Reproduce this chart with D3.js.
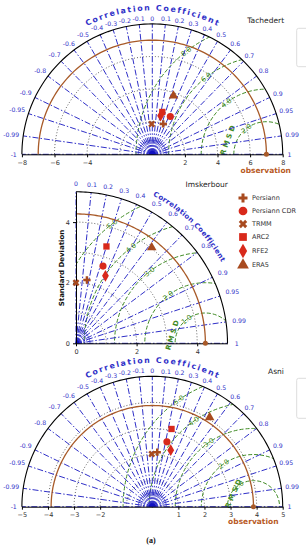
<!DOCTYPE html>
<html>
<head>
<meta charset="utf-8">
<script src="https://cdn.jsdelivr.net/npm/d3@7"></script>
<style>
body { margin: 0; background: #fff; }
svg { display: block; font-family: "DejaVu Sans", sans-serif; }
</style>
</head>
<body>
<div id="chart"></div>
<script>
// series shared by all three diagrams
var models = ["Persiann", "Persiann CDR", "TRMM", "ARC2", "RFE2", "ERA5"];
var markerTypes = ["plus", "circle", "times", "square", "diamond", "triangle"];
var markerColors = ["#a84a1f", "#d8291b", "#a84a1f", "#d8291b", "#d8291b", "#a84a1f"];

// Tachedert
var tachedertStd = [1.98, 2.57, 1.86, 2.67, 2.42, 3.82];
var tachedertCorr = [0.34, 0.43, -0.02, 0.23, 0.21, 0.34];
var tachedertObs = 7.0;

// Imskerbour
var imskerbourStd = [2.12, 2.70, 2.00, 3.35, 2.43, 4.03];
var imskerbourCorr = [0.17, 0.33, 0.0, 0.30, 0.40, 0.62];
var imskerbourObs = 4.27;

// Asni
var asniStd = [2.10, 2.55, 2.02, 3.07, 2.28, 4.07];
var asniCorr = [0.09, 0.22, -0.01, 0.24, 0.31, 0.54];
var asniObs = 3.88;

var corrFull = [-1, -0.99, -0.95, -0.9, -0.8, -0.7, -0.6, -0.5, -0.4, -0.3, -0.2, -0.1, 0,
  0.1, 0.2, 0.3, 0.4, 0.5, 0.6, 0.7, 0.8, 0.9, 0.95, 0.99, 1];
var corrHalf = [0, 0.1, 0.2, 0.3, 0.4, 0.5, 0.6, 0.7, 0.8, 0.9, 0.95, 0.99, 1];

var tachedertTicks = [-8, -6, -4, 2, 4, 6, 8];
var imskerbourTicks = [0, 2, 4];
var asniTicks = [-5, -4, -3, -2, 1, 2, 3, 4, 5];

var tachedertGrid = [2, 4, 6];
var imskerbourGrid = [1, 2, 3, 4];
var asniGrid = [1, 2, 3, 4];

var tachedertRms = [2, 4, 6, 8];
var imskerbourRms = [1, 2, 3, 4, 5];
var asniRms = [1, 2, 3, 4, 5];

var blue = "#3030c8";
var green = "#3f8a24";
var brown = "#a85a28";

var svg = d3.select("#chart").append("svg")
  .attr("width", 306)
  .attr("height", 550);

function markerPath(type, size) {
  var t = {
    plus: d3.symbolCross, circle: d3.symbolCircle, times: d3.symbolCross,
    square: d3.symbolSquare, diamond: d3.symbolDiamond, triangle: d3.symbolTriangle
  }[type];
  return d3.symbol().type(t).size(size)();
}

function drawTaylor(p) {
  var g = svg.append("g");
  var r = d3.scaleLinear().domain([0, p.max]).range([0, p.R]);
  var maxAng = p.half ? Math.PI : Math.PI / 2;

  function pt(std, corr) {
    var a = Math.acos(corr);
    return [p.cx + r(std) * Math.cos(a), p.cy - r(std) * Math.sin(a)];
  }
  function arcPath(rad, a0, a1) {
    var s = d3.range(0, 101).map(function(i) {
      var a = a0 + (a1 - a0) * i / 100;
      return [p.cx + rad * Math.cos(a), p.cy - rad * Math.sin(a)];
    });
    return d3.line()(s);
  }

  // clip for rms circles
  var clipId = "clip" + p.id;
  g.append("clipPath").attr("id", clipId)
    .append("path")
    .attr("d", arcPath(p.R, 0, maxAng) + "L" + p.cx + "," + p.cy + "Z");

  // std grid (dotted)
  p.grid.forEach(function(s) {
    g.append("path").attr("d", arcPath(r(s), 0, maxAng))
      .attr("fill", "none").attr("stroke", "#555")
      .attr("stroke-width", 0.9).attr("stroke-dasharray", "1,2");
  });

  // rms contours around the observation
  var rmsG = g.append("g").attr("clip-path", "url(#" + clipId + ")");
  p.rms.forEach(function(v) {
    rmsG.append("circle")
      .attr("cx", p.cx + r(p.obs)).attr("cy", p.cy).attr("r", r(v))
      .attr("fill", "none").attr("stroke", green)
      .attr("stroke-width", 1).attr("stroke-dasharray", "4,2");
  });
  p.rms.forEach(function(v) {
    var a = p.rmsAng * Math.PI / 180;
    var x = p.cx + r(p.obs) + r(v) * Math.cos(a);
    var y = p.cy - r(v) * Math.sin(a);
    g.append("text")
      .attr("transform", "translate(" + x + "," + y + ") rotate(" + (90 - p.rmsAng) + ")")
      .attr("text-anchor", "middle").attr("dy", "0.35em")
      .attr("font-size", 7).attr("fill", green)
      .text(v.toFixed(1));
  });
  g.append("text")
    .attr("transform", "translate(" + p.rmsd[0] + "," + p.rmsd[1] + ") rotate(" + p.rmsd[2] + ")")
    .attr("text-anchor", "middle").attr("dy", "0.35em")
    .attr("font-size", 7).attr("font-weight", "bold")
    .attr("letter-spacing", 2.5).attr("fill", green)
    .text("RMSD");

  // correlation rays
  var ticks = p.half ? corrFull : corrHalf;
  ticks.forEach(function(c) {
    var e = pt(p.max, c);
    g.append("line")
      .attr("x1", p.cx).attr("y1", p.cy).attr("x2", e[0]).attr("y2", e[1])
      .attr("stroke", blue).attr("stroke-width", 1)
      .attr("stroke-dasharray", "6,2,1.5,2");
    var a = Math.acos(c);
    var txt = String(c);
    var hw = txt.length * 1.9;
    var rr = p.R + p.labOff + hw * Math.abs(Math.cos(a)) * 0.7;
    g.append("text")
      .attr("x", p.cx + rr * Math.cos(a)).attr("y", p.cy - rr * Math.sin(a))
      .attr("text-anchor", "middle").attr("dominant-baseline", "central")
      .attr("font-size", 6.2).attr("fill", blue)
      .text(txt);
  });

  // small blue rings around the origin
  [5, 8, 11, 14].forEach(function(rad) {
    g.append("path").attr("d", arcPath(rad, 0, maxAng))
      .attr("fill", "none").attr("stroke", blue).attr("stroke-width", 0.8);
  });
  g.append("path").attr("d", arcPath(3.5, 0, maxAng) + "L" + p.cx + "," + p.cy + "Z")
    .attr("fill", "#1010c0");

  // observation arc
  g.append("path").attr("d", arcPath(r(p.obs), 0, maxAng))
    .attr("fill", "none").attr("stroke", brown).attr("stroke-width", 1.3);

  // outer frame
  g.append("path").attr("d", arcPath(p.R, 0, maxAng))
    .attr("fill", "none").attr("stroke", "#000").attr("stroke-width", 1.1);

  // axes
  if (p.half) {
    var x = d3.scaleLinear().domain([-p.max, p.max]).range([p.cx - p.R, p.cx + p.R]);
    g.append("g").attr("transform", "translate(0," + p.cy + ")")
      .call(d3.axisBottom(x).tickValues(p.ticks).tickSize(3).tickSizeOuter(0).tickFormat(d3.format("d")));
  } else {
    var xs = d3.scaleLinear().domain([0, p.max]).range([p.cx, p.cx + p.R]);
    var ys = d3.scaleLinear().domain([0, p.max]).range([p.cy, p.cy - p.R]);
    g.append("g").attr("transform", "translate(0," + p.cy + ")")
      .call(d3.axisBottom(xs).tickValues(p.ticks).tickSize(3).tickSizeOuter(0).tickFormat(d3.format("d")));
    g.append("g").attr("transform", "translate(" + p.cx + ",0)")
      .call(d3.axisLeft(ys).tickValues(p.ticks).tickSize(3).tickSizeOuter(0).tickFormat(d3.format("d")));
  }
  g.selectAll(".tick text").attr("font-size", 6.5).attr("fill", "#333")
    .attr("font-family", "DejaVu Sans");
  g.selectAll(".domain").attr("stroke", "#000");

  // observation point
  g.append("circle").attr("cx", p.cx + r(p.obs)).attr("cy", p.cy).attr("r", 2.5)
    .attr("fill", brown);

  // curved title
  var pid = "tp" + p.id;
  var a0 = p.titleArc[1] * Math.PI / 180, a1 = p.titleArc[2] * Math.PI / 180;
  var tr = p.R + p.titleArc[0];
  g.append("path").attr("id", pid).attr("fill", "none")
    .attr("d", "M" + (p.cx + tr * Math.cos(a0)) + "," + (p.cy - tr * Math.sin(a0)) +
      "A" + tr + "," + tr + " 0 0 1 " + (p.cx + tr * Math.cos(a1)) + "," + (p.cy - tr * Math.sin(a1)));
  var tt = g.append("text").attr("font-size", p.titleSize).attr("font-weight", "bold")
    .attr("fill", blue);
  tt.append("textPath").attr("href", "#" + pid).text("Correlation Coefficient");
  var want = tr * (a0 - a1);
  var have = tt.node().getComputedTextLength();
  tt.attr("letter-spacing", (want - have) / 22);

  // station name
  g.append("text").attr("x", p.name[1]).attr("y", p.name[2])
    .attr("text-anchor", "middle").attr("dominant-baseline", "central")
    .attr("font-size", 7.5).attr("fill", "#222").text(p.name[0]);

  if (p.obsText) {
    g.append("text").attr("x", p.obsText[0]).attr("y", p.obsText[1])
      .attr("text-anchor", "middle").attr("dominant-baseline", "central")
      .attr("font-size", 7.5).attr("font-weight", "bold").attr("fill", "#b85a25")
      .text("observation");
  }

  // model points
  models.forEach(function(m, i) {
    var q = pt(p.std[i], p.corr[i]);
    g.append("path")
      .attr("d", markerPath(markerTypes[i], markerTypes[i] === "plus" || markerTypes[i] === "times" ? 30 : 40))
      .attr("transform", "translate(" + q[0] + "," + q[1] + ")" + (markerTypes[i] === "times" ? " rotate(45)" : ""))
      .attr("fill", markerColors[i]);
  });
}

drawTaylor({
  id: 1, cx: 152.3, cy: 154.3, R: 130.4, max: 8, obs: tachedertObs, half: true,
  ticks: tachedertTicks, grid: tachedertGrid, rms: tachedertRms, rmsAng: 128,
  rmsd: [228, 139, -70], std: tachedertStd, corr: tachedertCorr,
  titleArc: [13.5, 117, 63.5], titleSize: 7.8, labOff: 5.5,
  name: ["Tachedert", 265.7, 20], obsText: [265.7, 170.7]
});

drawTaylor({
  id: 2, cx: 76, cy: 343.3, R: 151.5, max: 5, obs: imskerbourObs, half: false,
  ticks: imskerbourTicks, grid: imskerbourGrid, rms: imskerbourRms, rmsAng: 128,
  rmsd: [172.5, 334, -73], std: imskerbourStd, corr: imskerbourCorr,
  titleArc: [15, 62.5, 29.5], titleSize: 7, labOff: 8,
  name: ["Imskerbour", 206.7, 184.3], obsText: null
});

drawTaylor({
  id: 3, cx: 152.3, cy: 506.7, R: 130.4, max: 5, obs: asniObs, half: true,
  ticks: asniTicks, grid: asniGrid, rms: asniRms, rmsAng: 125,
  rmsd: [233.7, 492.5, -66], std: asniStd, corr: asniCorr,
  titleArc: [13.5, 117, 63.5], titleSize: 7.8, labOff: 5.5,
  name: ["Asni", 276, 371.7], obsText: [253.3, 521.7]
});

// Standard Deviation label for the quarter diagram
svg.append("text")
  .attr("transform", "translate(61.7,268) rotate(-90)")
  .attr("text-anchor", "middle").attr("dominant-baseline", "central")
  .attr("font-size", 7).attr("font-weight", "bold").attr("fill", "#111")
  .text("Standard Deviation");

// legend
var legend = svg.append("g");
models.forEach(function(m, i) {
  var y = [198, 211, 224, 237, 251, 265][i];
  legend.append("path")
    .attr("d", markerPath(markerTypes[i], markerTypes[i] === "plus" || markerTypes[i] === "times" ? 45 : 60))
    .attr("transform", "translate(243," + y + ")" + (markerTypes[i] === "times" ? " rotate(45)" : ""))
    .attr("fill", markerColors[i]);
  legend.append("text").attr("x", 252).attr("y", y)
    .attr("dominant-baseline", "central")
    .attr("font-size", 6.5).attr("fill", "#333").text(m);
});

// partial legend frames at the right edge
[[296.7, 28.3, 38.4], [296.7, 378.3, 40]].forEach(function(b) {
  svg.append("rect").attr("x", b[0]).attr("y", b[1]).attr("width", 20).attr("height", b[2])
    .attr("rx", 2).attr("fill", "none").attr("stroke", "#ddd");
});

svg.append("text").attr("x", 151).attr("y", 540)
  .attr("text-anchor", "middle").attr("dominant-baseline", "central")
  .attr("font-family", "Liberation Serif").attr("font-weight", "bold")
  .attr("font-size", 8).attr("fill", "#111").text("(a)");
</script>
</body>
</html>
